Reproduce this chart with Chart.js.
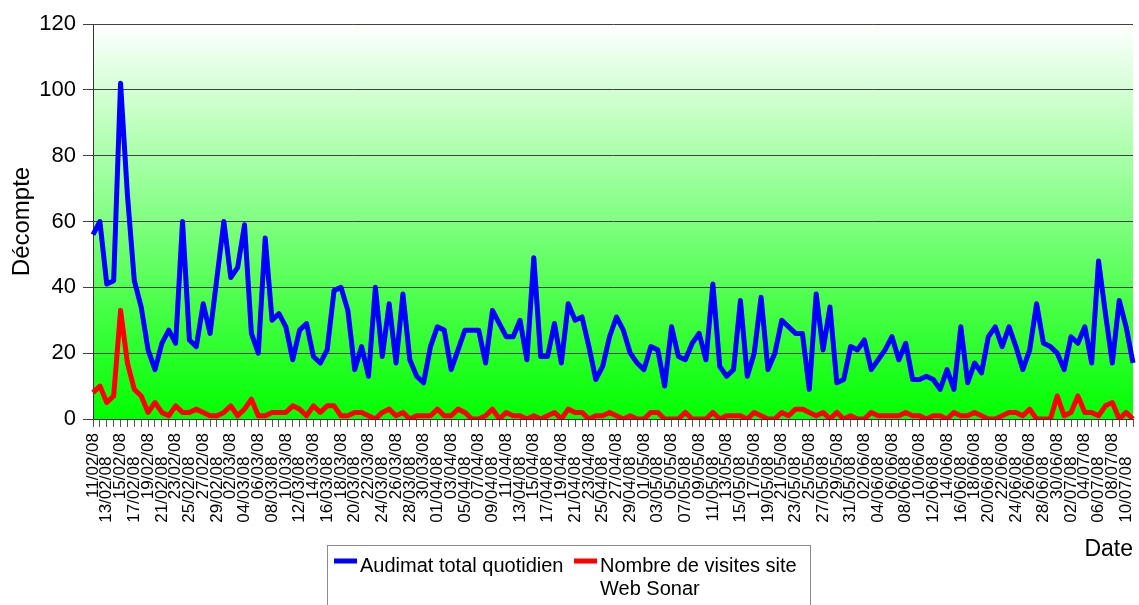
<!DOCTYPE html>
<html lang="fr">
<head>
<meta charset="utf-8">
<title>Audimat</title>
<script src="https://cdn.jsdelivr.net/npm/chart.js@4/dist/chart.umd.min.js"></script>
<style>
  html, body { margin: 0; padding: 0; background: #fff; }
  #wrap { width: 1139px; height: 605px; position: relative; }
</style>
</head>
<body>
<div id="wrap"><canvas id="audimatChart"></canvas></div>
<script>
// month, first day, last day (2008)
const dateRanges = [
    ["02", 11, 29],
    ["03", 1, 31],
    ["04", 1, 30],
    ["05", 1, 31],
    ["06", 1, 30],
    ["07", 1, 11]
];

const yTicks = [0, 20, 40, 60, 80, 100, 120];

const audimat = [
    56, 60, 41, 42, 102, 68, 42, 34, 21, 15, 23, 27, 23, 60, 24, 22, 35, 26, 43, 60,
    43, 46, 59, 26, 20, 55, 30, 32, 28, 18, 27, 29, 19, 17, 21, 39, 40, 33, 15, 22,
    13, 40, 19, 35, 17, 38, 18, 13, 11, 22, 28, 27, 15, 21, 27, 27, 27, 17, 33, 29,
    25, 25, 30, 18, 49, 19, 19, 29, 17, 35, 30, 31, 22, 12, 16, 25, 31, 27, 20, 17,
    15, 22, 21, 10, 28, 19, 18, 23, 26, 18, 41, 16, 13, 15, 36, 13, 20, 37, 15, 20,
    30, 28, 26, 26, 9, 38, 21, 34, 11, 12, 22, 21, 24, 15, 18, 21, 25, 18, 23, 12,
    12, 13, 12, 9, 15, 9, 28, 11, 17, 14, 25, 28, 22, 28, 22, 15, 21, 35, 23, 22,
    20, 15, 25, 23, 28, 17, 48, 32, 17, 36, 28, 17
];

const visitesSonar = [
    8, 10, 5, 7, 33, 17, 9, 7, 2, 5, 2, 1, 4, 2, 2, 3, 2, 1, 1, 2,
    4, 1, 3, 6, 1, 1, 2, 2, 2, 4, 3, 1, 4, 2, 4, 4, 1, 1, 2, 2,
    1, 0, 2, 3, 1, 2, 0, 1, 1, 1, 3, 1, 1, 3, 2, 0, 0, 1, 3, 0,
    2, 1, 1, 0, 1, 0, 1, 2, 0, 3, 2, 2, 0, 1, 1, 2, 1, 0, 1, 0,
    0, 2, 2, 0, 0, 0, 2, 0, 0, 0, 2, 0, 1, 1, 1, 0, 2, 1, 0, 0,
    2, 1, 3, 3, 2, 1, 2, 0, 2, 0, 1, 0, 0, 2, 1, 1, 1, 1, 2, 1,
    1, 0, 1, 1, 0, 2, 1, 1, 2, 1, 0, 0, 1, 2, 2, 1, 3, 0, 0, 0,
    7, 1, 2, 7, 2, 2, 1, 4, 5, 0, 2, 0
];

const dates = [];
dateRanges.forEach(([month, from, to]) => {
    for (let d = from; d <= to; d++) {
        dates.push(String(d).padStart(2, "0") + "/" + month + "/08");
    }
});

const FONT = "'Liberation Sans', Arial, sans-serif";
Chart.defaults.font.family = FONT;
Chart.defaults.color = "#000";

// white-to-green plot background
const plotBackground = {
    id: "plotBackground",
    beforeDraw(chart) {
        const { ctx, chartArea: a } = chart;
        const g = ctx.createLinearGradient(0, a.top, 0, a.bottom);
        g.addColorStop(0, "#ffffff");
        g.addColorStop(1, "#00ff00");
        ctx.save();
        ctx.fillStyle = g;
        ctx.fillRect(a.left, a.top, a.right - a.left, a.bottom - a.top);
        ctx.restore();
    }
};

function wrapText(ctx, text, maxWidth) {
    const words = text.split(" ");
    const lines = [];
    let line = "";
    words.forEach(w => {
        const test = line ? line + " " + w : w;
        if (line && ctx.measureText(test).width > maxWidth) {
            lines.push(line);
            line = w;
        } else {
            line = test;
        }
    });
    if (line) lines.push(line);
    return lines;
}

// boxed legend under the axis
const boxLegend = {
    id: "boxLegend",
    afterDraw(chart) {
        const ctx = chart.ctx;
        ctx.save();
        ctx.strokeStyle = "#8c8c8c";
        ctx.lineWidth = 1;
        ctx.strokeRect(327.5, 545.5, 483, 80);
        ctx.font = "20px " + FONT;
        ctx.textBaseline = "alphabetic";
        ctx.textAlign = "left";
        const items = [
            { x: 334, width: 210 },
            { x: 574, width: 210 }
        ];
        chart.data.datasets.forEach((ds, i) => {
            const it = items[i];
            ctx.fillStyle = ds.borderColor;
            ctx.fillRect(it.x, 558.5, 23, 5);
            ctx.fillStyle = "#000";
            wrapText(ctx, ds.label, it.width).forEach((line, k) => {
                ctx.fillText(line, it.x + 26, 572 + k * 23);
            });
        });
        ctx.restore();
    }
};

new Chart(document.getElementById("audimatChart"), {
    type: "line",
    data: {
        labels: dates,
        datasets: [
            {
                label: "Audimat total quotidien",
                data: audimat,
                borderColor: "#0000ff",
                borderWidth: 5,
                pointRadius: 0,
                tension: 0,
                borderJoinStyle: "round",
                clip: { left: 5, top: 5, right: 5, bottom: 0 }
            },
            {
                label: "Nombre de visites site Web Sonar",
                data: visitesSonar,
                borderColor: "#ff0000",
                borderWidth: 5,
                pointRadius: 0,
                tension: 0,
                borderJoinStyle: "round",
                clip: { left: 5, top: 5, right: 5, bottom: 0 }
            }
        ]
    },
    options: {
        responsive: true,
        maintainAspectRatio: false,
        animation: false,
        layout: { padding: { top: 24, right: 6, left: 0, bottom: 0 } },
        plugins: {
            legend: { display: false },
            tooltip: { enabled: false }
        },
        scales: {
            x: {
                offset: false,
                grid: { drawOnChartArea: false, drawTicks: true, tickLength: 8, color: "#555" },
                border: { color: "#333", width: 1 },
                ticks: {
                    autoSkip: false,
                    minRotation: 90,
                    maxRotation: 90,
                    padding: 6,
                    color: "#000",
                    font: { size: 17 },
                    // every second day, alternate labels pushed down
                    callback: function (value, index) {
                        if (index % 2 !== 0) return "";
                        const label = dates[index];
                        return index % 4 === 2 ? label + "     " : label;
                    }
                },
                title: {
                    display: true,
                    text: "Date",
                    align: "end",
                    color: "#000",
                    font: { size: 23 },
                    padding: { top: 0, bottom: 42 }
                },
                afterFit(scale) {
                    scale.height = 186;
                    scale.paddingLeft = 0;
                    scale.paddingRight = 0;
                }
            },
            y: {
                min: 0,
                max: 120,
                afterBuildTicks(scale) {
                    scale.ticks = yTicks.map(v => ({ value: v }));
                },
                grid: { color: "#404040", tickLength: 10, drawTicks: true },
                border: { color: "#333", width: 1 },
                ticks: { padding: 7, color: "#000", font: { size: 22 } },
                title: {
                    display: true,
                    text: "Décompte",
                    color: "#000",
                    font: { size: 24 },
                    padding: { top: 8, bottom: 0 }
                },
                afterFit(scale) {
                    scale.width = 93;
                }
            }
        }
    },
    plugins: [plotBackground, boxLegend]
});
</script>
</body>
</html>
